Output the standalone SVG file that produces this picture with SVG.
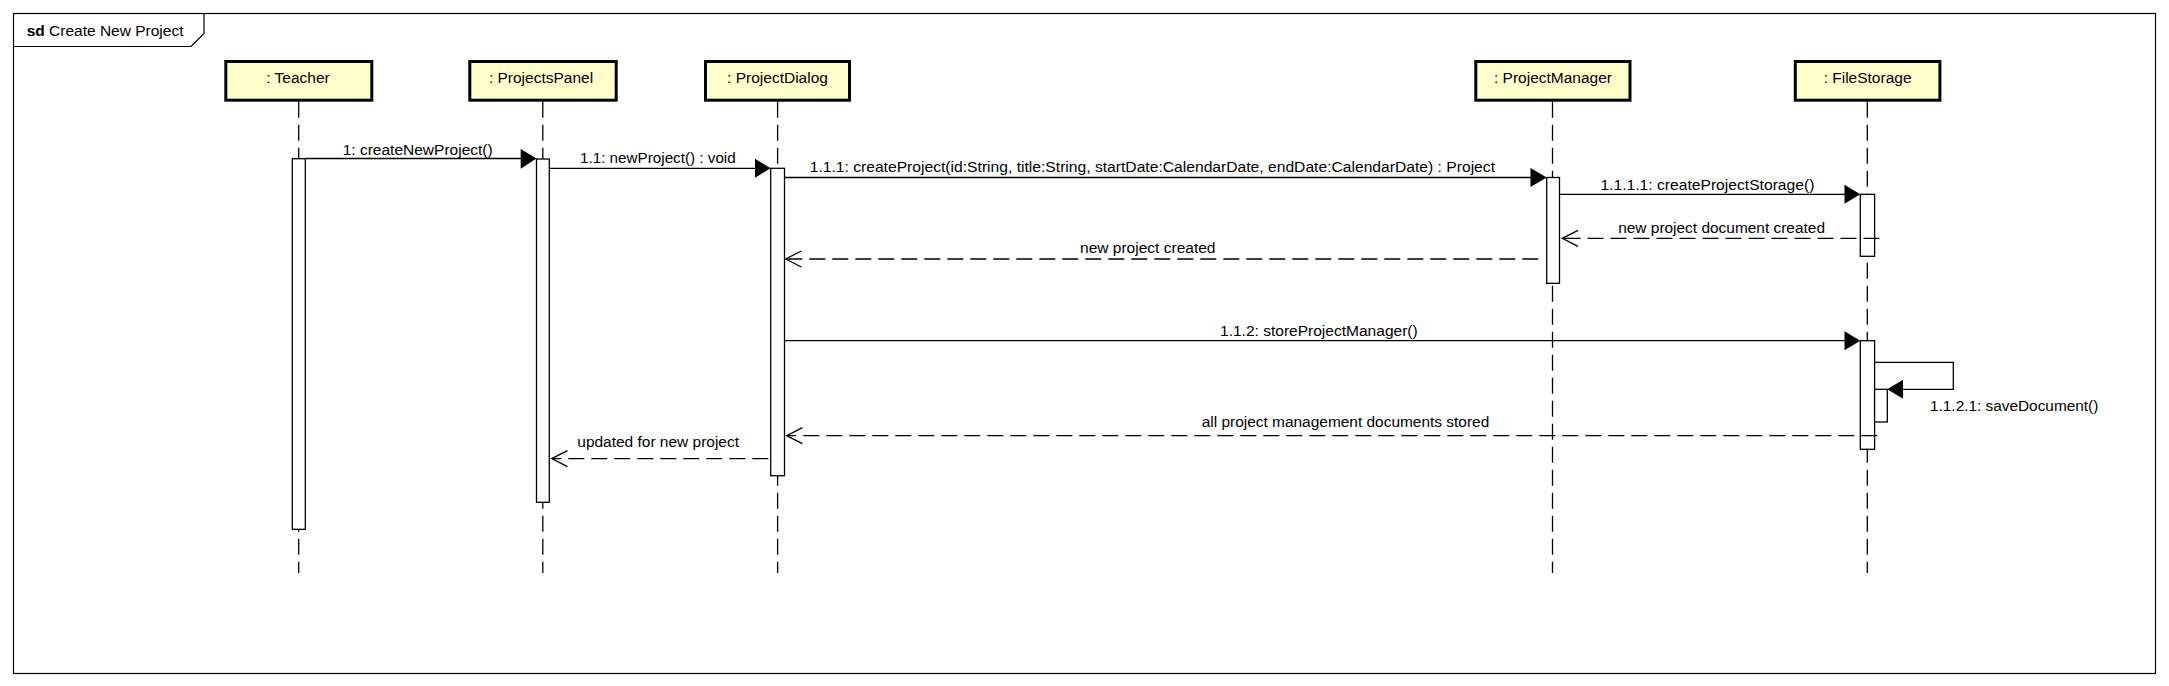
<svg xmlns="http://www.w3.org/2000/svg" width="2169" height="686" viewBox="0 0 2169 686">
<style>
text{font-family:"Liberation Sans",Arial,sans-serif;font-size:15.5px;fill:#000}
.box{fill:#ffffcc;stroke:#000;stroke-width:3}
.life{stroke:#000;stroke-width:1.3;stroke-dasharray:16 7;fill:none}
.act{fill:#fff;stroke:#000;stroke-width:1.3}
.msg{stroke:#000;stroke-width:1.3;fill:none}
.ret{stroke:#000;stroke-width:1.3;fill:none;stroke-dasharray:16 7}
.open{stroke:#000;stroke-width:1.3;fill:none}
.head{fill:#000}
.frame{fill:none;stroke:#000;stroke-width:1.2}
</style>
<rect width="2169" height="686" fill="#fff"/>
<g id="frame">
<rect class="frame" x="13.5" y="13.5" width="2142" height="660"/>
<path class="frame" d="M13.5,46.5 H191 L204,33.5 V13.5"/>
<text x="26.7" y="36"><tspan font-weight="bold">sd</tspan> Create New Project</text>
</g>
<g id="teacher">
<rect class="box" x="225.8" y="61.5" width="146" height="38.7"/>
<text x="298" y="83" text-anchor="middle">: Teacher</text>
<line class="life" x1="298.7" y1="101.7" x2="298.7" y2="573"/>
<rect class="act" x="292.3" y="158.7" width="13" height="370.6"/>
</g>
<g id="projectsPanel">
<rect class="box" x="469.8" y="61.5" width="146.4" height="38.7"/>
<text x="541" y="83" text-anchor="middle">: ProjectsPanel</text>
<line class="life" x1="542.8" y1="101.7" x2="542.8" y2="573"/>
<rect class="act" x="536.5" y="159" width="12.8" height="343.3"/>
</g>
<g id="projectDialog">
<rect class="box" x="705.5" y="61.5" width="144" height="38.7"/>
<text x="777.5" y="83" text-anchor="middle">: ProjectDialog</text>
<line class="life" x1="777.6" y1="101.7" x2="777.6" y2="573"/>
<rect class="act" x="770.7" y="168.3" width="13.8" height="307.4"/>
</g>
<g id="projectManager">
<rect class="box" x="1475.8" y="61.5" width="154.2" height="38.7"/>
<text x="1553" y="83" text-anchor="middle">: ProjectManager</text>
<line class="life" x1="1552.5" y1="101.7" x2="1552.5" y2="573"/>
<rect class="act" x="1546.7" y="177.5" width="12.8" height="105.8"/>
</g>
<g id="fileStorage">
<rect class="box" x="1795.3" y="61.5" width="144.6" height="38.7"/>
<text x="1867.6" y="83" text-anchor="middle">: FileStorage</text>
<line class="life" x1="1867.3" y1="101.7" x2="1867.3" y2="573"/>
<rect class="act" x="1860.3" y="194.3" width="14.3" height="62"/>
<rect class="act" x="1860.3" y="340.7" width="14.3" height="108.6"/>
<rect class="act" x="1874.6" y="389.3" width="12.7" height="32.7"/>
</g>
<g id="connectors">
<line class="msg" x1="305.3" y1="158.5" x2="522" y2="158.5"/>
<polygon class="head" points="536.5,158.5 520.7,149 520.7,168.8"/>
<text x="342.7" y="155" textLength="150" lengthAdjust="spacingAndGlyphs">1: createNewProject()</text>

<line class="msg" x1="549.3" y1="168.3" x2="757" y2="168.3"/>
<polygon class="head" points="770.7,168.3 755,158.8 755,177.8"/>
<text x="580" y="162.5" textLength="155.7" lengthAdjust="spacingAndGlyphs">1.1: newProject() : void</text>

<line class="msg" x1="784.5" y1="177.5" x2="1532" y2="177.5"/>
<polygon class="head" points="1546.7,177.5 1530.5,168 1530.5,187"/>
<text x="809.7" y="171.7" textLength="685.3" lengthAdjust="spacingAndGlyphs">1.1.1: createProject(id:String, title:String, startDate:CalendarDate, endDate:CalendarDate) : Project</text>

<line class="msg" x1="1559.5" y1="194.3" x2="1846" y2="194.3"/>
<polygon class="head" points="1860.3,194.3 1844.5,184.8 1844.5,203.8"/>
<text x="1600.4" y="190" textLength="214" lengthAdjust="spacingAndGlyphs">1.1.1.1: createProjectStorage()</text>

<line class="ret" x1="1879.5" y1="238.3" x2="1563" y2="238.3"/>
<polyline class="open" points="1578,230.3 1562.3,238.3 1578,246.3"/>
<text x="1618.2" y="232.5" textLength="206.8" lengthAdjust="spacingAndGlyphs">new project document created</text>

<line class="ret" x1="1538.3" y1="259" x2="787" y2="259"/>
<polyline class="open" points="801.4,251 785.7,259 801.4,267"/>
<text x="1080" y="252.5" textLength="135.5" lengthAdjust="spacingAndGlyphs">new project created</text>

<line class="msg" x1="784.5" y1="340.7" x2="1846" y2="340.7"/>
<polygon class="head" points="1860.3,340.7 1844.5,331.2 1844.5,350.2"/>
<text x="1220" y="335.7" textLength="197.7" lengthAdjust="spacingAndGlyphs">1.1.2: storeProjectManager()</text>

<path class="msg" d="M1874.6,362.3 H1953.3 V389.3 H1900"/>
<polygon class="head" points="1887.3,389.3 1903,379.8 1903,398.8"/>
<text x="1930" y="410.7" textLength="168.3" lengthAdjust="spacingAndGlyphs">1.1.2.1: saveDocument()</text>

<line class="ret" x1="1877.3" y1="435.7" x2="788" y2="435.7"/>
<polyline class="open" points="802.4,427.7 786.7,435.7 802.4,443.7"/>
<text x="1201.7" y="426.7" textLength="287.6" lengthAdjust="spacingAndGlyphs">all project management documents stored</text>

<line class="ret" x1="768.3" y1="458.6" x2="553" y2="458.6"/>
<polyline class="open" points="567.4,450.6 551.7,458.6 567.4,466.6"/>
<text x="577.3" y="446.7" textLength="161.7" lengthAdjust="spacingAndGlyphs">updated for new project</text>
</g>
</svg>
